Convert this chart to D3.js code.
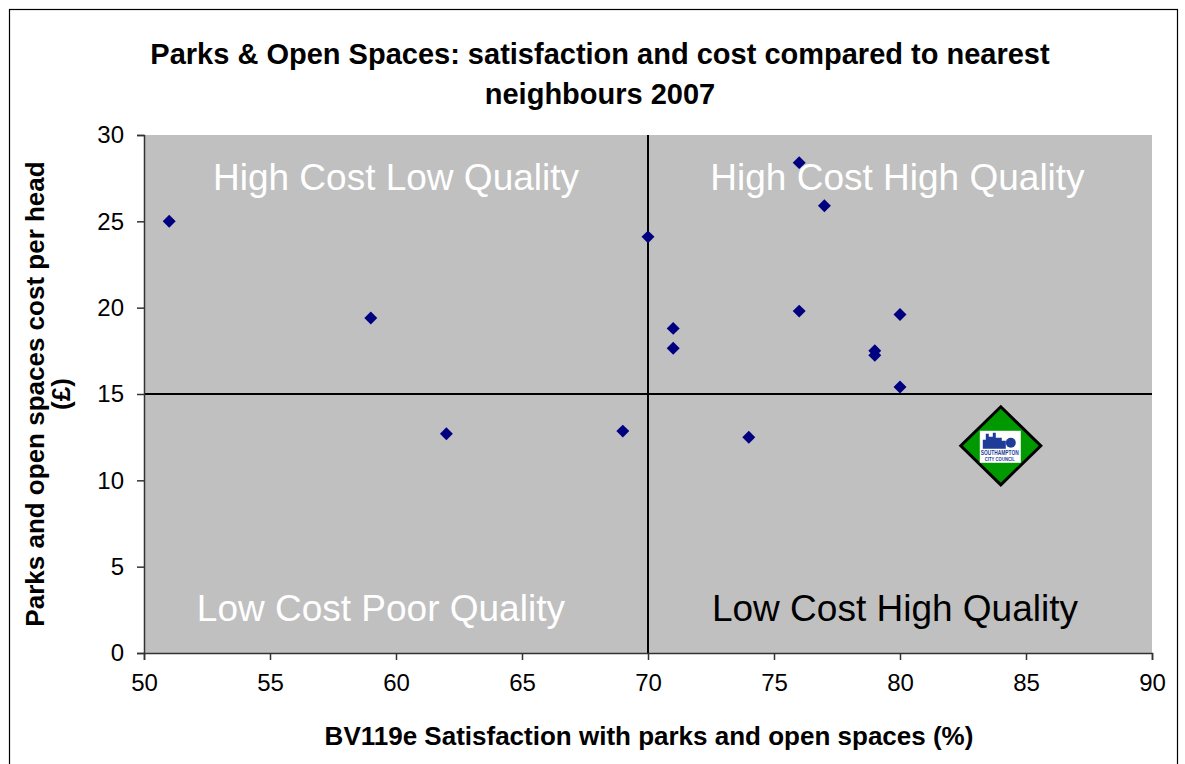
<!DOCTYPE html>
<html>
<head>
<meta charset="utf-8">
<script src="https://cdn.jsdelivr.net/npm/d3@7"></script>
<style>
body{margin:0;background:#fff;}
text{font-family:"Liberation Sans",Arial,sans-serif;}
</style>
</head>
<body>
<script>
// neighbours: satisfaction (%) and cost per head (£)
const satisfaction = [51, 59, 62, 69, 70, 71, 71, 74, 76, 77, 76, 79, 79, 80, 80];
const costPerHead  = [25.0, 19.4, 12.7, 12.85, 24.1, 18.8, 17.65, 12.5, 28.4, 25.9, 19.8, 17.5, 17.25, 19.6, 15.4];
const southampton = {x: 84, y: 12};
const xTicks = [50, 55, 60, 65, 70, 75, 80, 85, 90];
const yTicks = [0, 5, 10, 15, 20, 25, 30];
const quadrants = [
  {label: "High Cost Low Quality", x: 60, y: 26.8, color: "#fff"},
  {label: "High Cost High Quality", x: 79.9, y: 26.8, color: "#fff"},
  {label: "Low Cost Poor Quality", x: 59.4, y: 1.85, color: "#fff"},
  {label: "Low Cost High Quality", x: 79.8, y: 1.85, color: "#000"}
];
const splitX = 70, splitY = 15;

const W = 1185, H = 764;
const m = {left: 144, right: 1152, top: 135, bottom: 653};

const svg = d3.select("body").append("svg").attr("width", W).attr("height", H);

// outer chart frame
svg.append("rect").attr("x", 9.5).attr("y", 9.5).attr("width", 1168).attr("height", 770)
  .attr("fill", "#fff").attr("stroke", "#000").attr("stroke-width", 1.2);

const x = d3.scaleLinear().domain([50, 90]).range([m.left, m.right]);
const y = d3.scaleLinear().domain([0, 30]).range([m.bottom, m.top]);

svg.append("rect").attr("x", m.left).attr("y", m.top)
  .attr("width", m.right - m.left).attr("height", m.bottom - m.top).attr("fill", "#c0c0c0");

// quadrant labels
svg.append("g").selectAll("text").data(quadrants).join("text")
  .attr("x", d => x(d.x)).attr("y", d => y(d.y))
  .attr("text-anchor", "middle")
  .attr("font-size", 37).attr("fill", d => d.color).text(d => d.label);

// dividing lines
svg.append("line").attr("x1", x(splitX)).attr("x2", x(splitX)).attr("y1", m.top).attr("y2", m.bottom)
  .attr("stroke", "#000").attr("stroke-width", 2);
svg.append("line").attr("x1", m.left).attr("x2", m.right).attr("y1", y(splitY)).attr("y2", y(splitY))
  .attr("stroke", "#000").attr("stroke-width", 2);

// axes
const xAxis = svg.append("g").attr("transform", `translate(0,${m.bottom})`)
  .call(d3.axisBottom(x).tickValues(xTicks).tickSize(7).tickPadding(14));
const yAxis = svg.append("g").attr("transform", `translate(${m.left},0)`)
  .call(d3.axisLeft(y).tickValues(yTicks).tickSize(7).tickPadding(13));
[xAxis, yAxis].forEach(g => {
  g.select(".domain").attr("stroke", "#333").attr("stroke-width", 1.5);
  g.selectAll(".tick line").attr("stroke", "#333").attr("stroke-width", 1.5);
  g.selectAll(".tick text").attr("font-size", 24).attr("fill", "#000")
    .style("font-family", "Liberation Sans, Arial, sans-serif");
});

// neighbour points
const pts = satisfaction.map((s, i) => ({x: s, y: costPerHead[i]}));
const diamond = d3.symbol().type(d3.symbolSquare).size(84);
svg.append("g").selectAll("path").data(pts).join("path")
  .attr("d", diamond)
  .attr("transform", d => `translate(${x(d.x)},${y(d.y)}) rotate(45)`)
  .attr("fill", "#000080");

// Southampton marker
const sg = svg.append("g").attr("transform", `translate(${x(southampton.x)},${y(southampton.y)})`);
sg.append("path").attr("d", "M0,-39 L40,0 L0,39 L-40,0 Z")
  .attr("fill", "#009900").attr("stroke", "#000").attr("stroke-width", 3);
sg.append("rect").attr("x", -21).attr("y", -15).attr("width", 41).attr("height", 32).attr("fill", "#fff");
sg.append("path").attr("d", "M-18,3 L-18,-6 L-15,-6 L-15,-12 L-12,-12 L-12,-9 L-8,-9 L-8,-13 L-5,-13 L-5,-8 L1,-8 L1,-5 L5,-5 L5,3 Z")
  .attr("fill", "#1f3c99");
sg.append("circle").attr("cx", 10).attr("cy", -3).attr("r", 5).attr("fill", "#1f3c99");
sg.append("text").attr("x", -1).attr("y", 9).attr("text-anchor", "middle").attr("font-size", 6.5)
  .attr("font-weight", "bold").attr("font-family", "Liberation Serif, serif").attr("fill", "#1f3c99")
  .attr("textLength", 38).attr("lengthAdjust", "spacingAndGlyphs").text("SOUTHAMPTON");
sg.append("text").attr("x", -1).attr("y", 15).attr("text-anchor", "middle").attr("font-size", 6)
  .attr("font-weight", "bold").attr("font-family", "Liberation Serif, serif").attr("fill", "#1f3c99")
  .attr("textLength", 30).attr("lengthAdjust", "spacingAndGlyphs").text("CITY COUNCIL");

// title
const title = svg.append("text").attr("text-anchor", "middle").attr("font-size", 29).attr("font-weight", "bold");
title.append("tspan").attr("x", 600).attr("y", 64).text("Parks & Open Spaces: satisfaction and cost compared to nearest");
title.append("tspan").attr("x", 600).attr("y", 104).text("neighbours 2007");

// axis titles
svg.append("text").attr("x", (m.left + m.right) / 2 + 1).attr("y", 745).attr("text-anchor", "middle")
  .attr("font-size", 26).attr("font-weight", "bold").text("BV119e Satisfaction with parks and open spaces (%)");
const yt = svg.append("text").attr("transform", `translate(0,${(m.top + m.bottom) / 2}) rotate(-90)`)
  .attr("text-anchor", "middle").attr("font-size", 26).attr("font-weight", "bold");
yt.append("tspan").attr("x", 0).attr("y", 44).text("Parks and open spaces cost per head");
yt.append("tspan").attr("x", 0).attr("y", 70).text("(£)");
</script>
</body>
</html>
